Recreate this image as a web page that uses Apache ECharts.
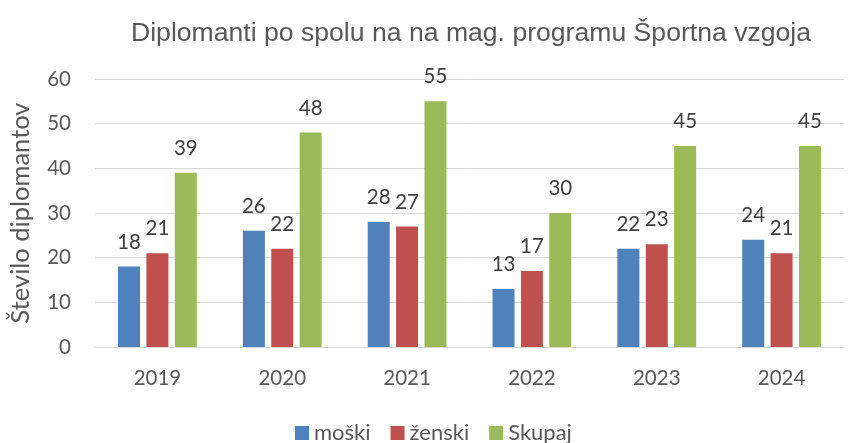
<!DOCTYPE html>
<html><head><meta charset="utf-8">
<script src="https://cdn.jsdelivr.net/npm/echarts@6/dist/echarts.min.js"></script>
<style>html,body{margin:0;padding:0;background:#fff}#c{width:848px;height:443px}</style>
</head><body><div id="c"></div>
<script>
const categories = ['2019','2020','2021','2022','2023','2024'];
const moski = [18,26,28,13,22,24];
const zenski = [21,22,27,17,23,21];
const skupaj = [39,48,55,30,45,45];
const yTicks = {min:0,max:60,interval:10};
const F = 'Lato, "Open Sans", sans-serif';
const chart = echarts.init(document.getElementById('c'), null, {renderer:'canvas'});
const lbl = {show:true,position:'top',distance:14,color:'#404040',fontSize:20.5,fontFamily:F};
chart.setOption({
  animation:false,
  title:{text:'Diplomanti po spolu na na mag. programu Športna vzgoja',left:466,textAlign:'center',top:15,
    textStyle:{fontFamily:'"Liberation Sans", Arial, sans-serif',fontSize:26.6,fontWeight:'normal',color:'#595959'}},
  legend:{top:422,left:295,padding:0,itemWidth:14,itemHeight:14,itemGap:20,icon:'rect',
    textStyle:{fontFamily:F,fontSize:22,color:'#595959'}},
  grid:{left:93,right:4,top:79,bottom:96},
  xAxis:{type:'category',data:categories,axisTick:{show:false},
    axisLine:{lineStyle:{color:'#d9d9d9',width:1}},
    axisLabel:{fontFamily:F,fontSize:20.5,color:'#595959',margin:21}},
  yAxis:{type:'value',min:yTicks.min,max:yTicks.max,interval:yTicks.interval,
    name:'Število diplomantov',nameLocation:'middle',nameGap:61,nameRotate:90,
    nameTextStyle:{fontFamily:F,fontSize:25.5,color:'#595959'},
    axisLabel:{fontFamily:F,fontSize:20.5,color:'#595959',margin:24},
    splitLine:{lineStyle:{color:'#d9d9d9',width:1}}},
  series:[
    {name:'moški',type:'bar',data:moski,barWidth:22,barGap:'29%',itemStyle:{color:'#4f81bd'},label:lbl},
    {name:'ženski',type:'bar',data:zenski,barWidth:22,barGap:'29%',itemStyle:{color:'#c0504d'},label:lbl},
    {name:'Skupaj',type:'bar',data:skupaj,barWidth:22,barGap:'29%',itemStyle:{color:'#9bbb59'},label:lbl}
  ]
});
</script></body></html>
